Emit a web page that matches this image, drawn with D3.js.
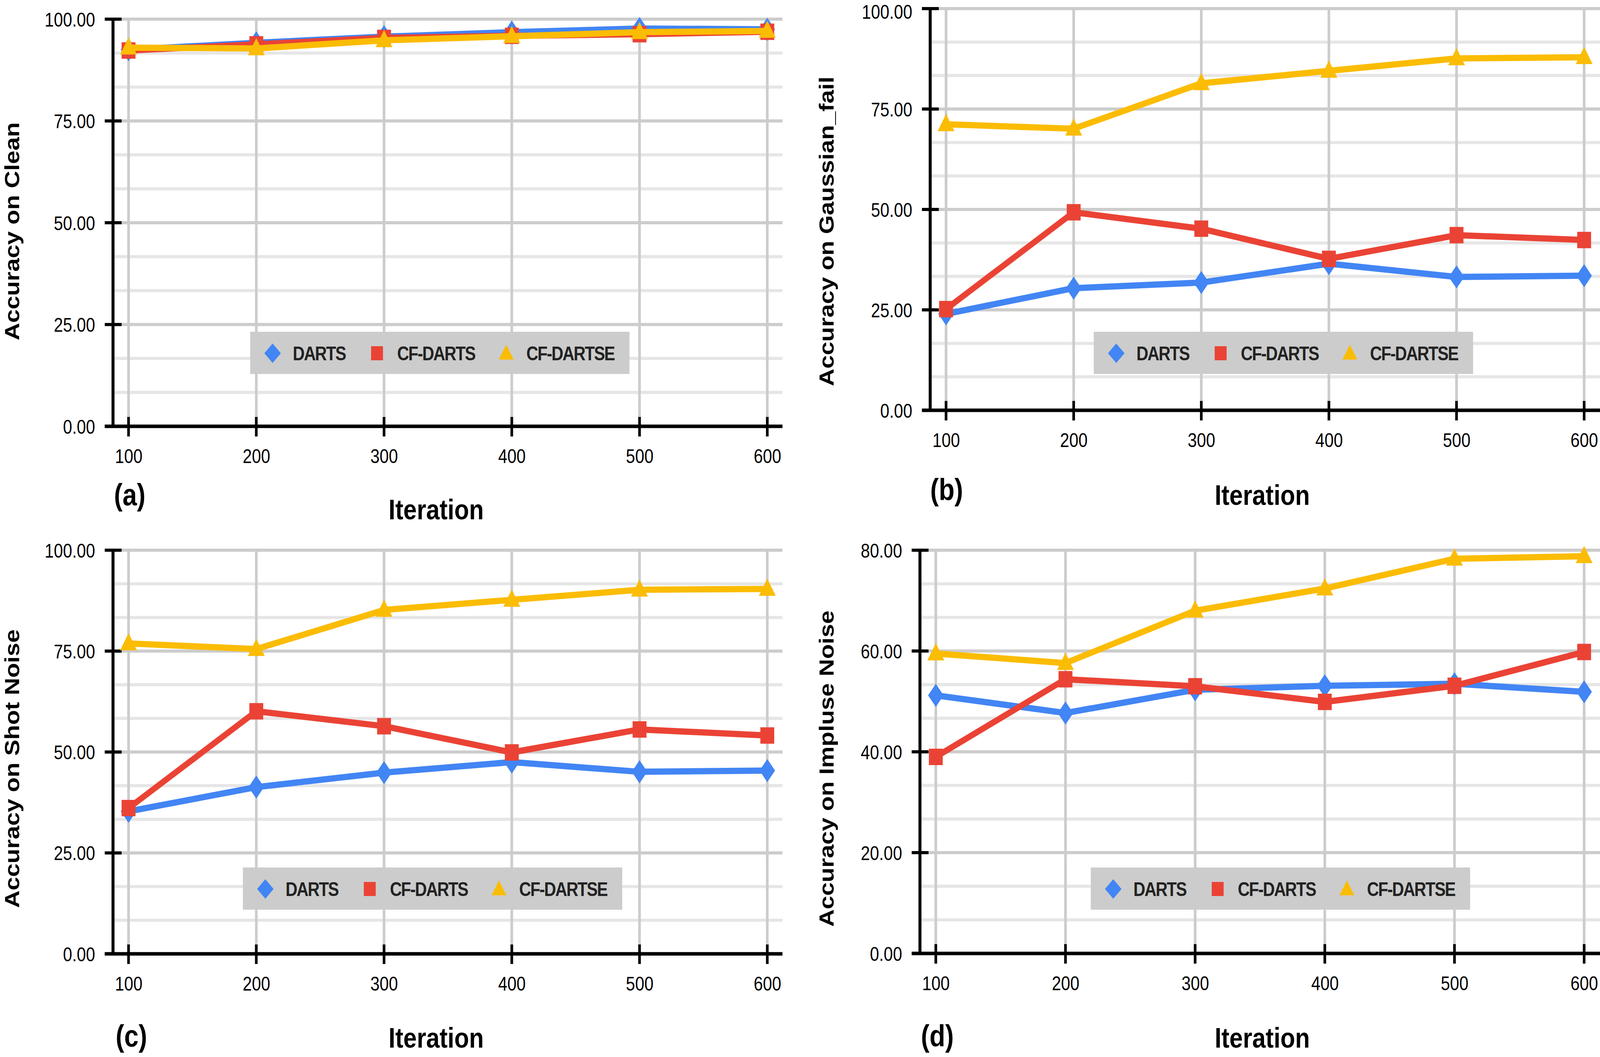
<!DOCTYPE html>
<html><head><meta charset="utf-8">
<script src="https://cdn.jsdelivr.net/npm/d3@7"></script>
<style>html,body{margin:0;padding:0;background:#fff;overflow:hidden;} svg{display:block;width:100vw;height:100vh}</style>
</head><body>
<svg id="chart" viewBox="0 0 4842 2705" preserveAspectRatio="none"></svg>
<script>
// ---------------- DATA ----------------
const iterations = [100, 200, 300, 400, 500, 600];
const seriesNames = ["DARTS", "CF-DARTS", "CF-DARTSE"];
const panelLetters = ["(a)", "(b)", "(c)", "(d)"];
const yTitles = ["Accuracy on Clean", "Accuracy on Gaussian_fail", "Accuracy on Shot Noise", "Accuracy on Impluse Noise"];
const xTitle = "Iteration";
const yTicks100 = [0, 25, 50, 75, 100];
const yTicks80 = [0, 20, 40, 60, 80];

const cleanDARTS    = [92.5, 94.2, 95.7, 96.8, 97.7, 97.5];
const cleanCFDARTS  = [92.3, 93.8, 95.4, 95.9, 96.3, 96.9];
const cleanCFDARTSE = [93.0, 92.8, 94.8, 95.8, 96.8, 97.1];

const gaussDARTS    = [24.0, 30.4, 31.8, 36.5, 33.2, 33.5];
const gaussCFDARTS  = [25.2, 49.3, 45.2, 37.7, 43.6, 42.4];
const gaussCFDARTSE = [71.2, 70.1, 81.4, 84.5, 87.6, 87.9];

const shotDARTS     = [35.3, 41.3, 44.9, 47.5, 45.1, 45.4];
const shotCFDARTS   = [36.1, 60.1, 56.4, 49.9, 55.6, 54.1];
const shotCFDARTSE  = [76.9, 75.5, 85.2, 87.7, 90.2, 90.4];

const impulseDARTS    = [51.2, 47.7, 52.3, 53.1, 53.5, 51.9];
const impulseCFDARTS  = [39.0, 54.4, 53.0, 49.9, 53.1, 59.8];
const impulseCFDARTSE = [59.5, 57.6, 68.0, 72.4, 78.3, 78.8];

// ---------------- STYLE / LAYOUT ----------------
const colors = ["#4285f4", "#ea4335", "#fbbc04"];
const shapes = ["diamond", "square", "triangle"];
const FONT = "'Liberation Sans', Arial, Helvetica, sans-serif";

const panels = [
  { series: [cleanDARTS, cleanCFDARTS, cleanCFDARTSE], ticks: yTicks100,
    axisX: 342, x0: 389, x1: 2322, gridRight: 2368, yTop: 49, yBot: 1091,
    titleX: 58, titleY: 592, letterX: 345, letterY: 1293, iterX: 1320, iterY: 1329,
    legend: { x: 757, y: 849 } },
  { series: [gaussDARTS, gaussCFDARTS, gaussCFDARTSE], ticks: yTicks100,
    axisX: 2815, x0: 2863, x1: 4794, gridRight: 4842, yTop: 22, yBot: 1050,
    titleX: 2523, titleY: 592, letterX: 2815, letterY: 1280, iterX: 3820, iterY: 1292,
    legend: { x: 3310, y: 849 } },
  { series: [shotDARTS, shotCFDARTS, shotCFDARTSE], ticks: yTicks100,
    axisX: 342, x0: 389, x1: 2322, gridRight: 2368, yTop: 1408, yBot: 2441,
    titleX: 58, titleY: 1967, letterX: 350, letterY: 2678, iterX: 1320, iterY: 2681,
    legend: { x: 735, y: 2220 } },
  { series: [impulseDARTS, impulseCFDARTS, impulseCFDARTSE], ticks: yTicks80,
    axisX: 2784, x0: 2832, x1: 4794, gridRight: 4842, yTop: 1408, yBot: 2440,
    titleX: 2523, titleY: 1967, letterX: 2787, letterY: 2678, iterX: 3820, iterY: 2681,
    legend: { x: 3301, y: 2220 } }
];

function markerPath(shape, w, h) {
  const hw = w / 2, hh = h / 2;
  if (shape === "diamond") return `M0,${-hh}L${hw},0L0,${hh}L${-hw},0Z`;
  if (shape === "square") return `M${-hw},${-hh}H${hw}V${hh}H${-hw}Z`;
  return `M0,${-h * 0.6}L${hw},${h * 0.4}L${-hw},${h * 0.4}Z`;
}
const plotMarkerSize = { diamond: [47, 59], square: [42, 42], triangle: [51, 44] };
const legendMarkerSize = { diamond: [50, 50], square: [36, 36], triangle: [45, 38] };

const svg = d3.select("#chart");
svg.append("rect").attr("width", 4842).attr("height", 2705).attr("fill", "#fff");

panels.forEach((p, pi) => {
  const g = svg.append("g");
  const yMax = d3.max(p.ticks);
  const x = d3.scaleLinear().domain([d3.min(iterations), d3.max(iterations)]).range([p.x0, p.x1]);
  const y = d3.scaleLinear().domain([0, yMax]).range([p.yBot, p.yTop]);

  const step = (p.ticks[1] - p.ticks[0]) / 3;
  const minors = d3.range(step, yMax, step).filter(v => Math.abs((v / (step * 3)) - Math.round(v / (step * 3))) > 1e-6);

  g.selectAll(".minor").data(minors).enter().append("line")
    .attr("x1", p.axisX).attr("x2", p.gridRight)
    .attr("y1", d => y(d)).attr("y2", d => y(d))
    .attr("stroke", "#e6e6e6").attr("stroke-width", 8);
  g.selectAll(".major").data(p.ticks.filter(v => v > 0)).enter().append("line")
    .attr("x1", p.axisX).attr("x2", p.gridRight)
    .attr("y1", d => y(d)).attr("y2", d => y(d))
    .attr("stroke", "#cccccc").attr("stroke-width", 8);
  g.selectAll(".vgrid").data(iterations).enter().append("line")
    .attr("x1", d => x(d)).attr("x2", d => x(d))
    .attr("y1", y(yMax) - 4).attr("y2", p.yBot)
    .attr("stroke", "#cccccc").attr("stroke-width", 8);

  g.append("line").attr("x1", p.axisX - 25).attr("x2", p.gridRight)
    .attr("y1", p.yBot).attr("y2", p.yBot).attr("stroke", "#000").attr("stroke-width", 9);
  g.append("line").attr("x1", p.axisX).attr("x2", p.axisX)
    .attr("y1", y(yMax) - 4).attr("y2", p.yBot + 4).attr("stroke", "#000").attr("stroke-width", 9);
  g.selectAll(".ytm").data(p.ticks).enter().append("line")
    .attr("x1", p.axisX - 25).attr("x2", p.axisX + 26)
    .attr("y1", d => y(d)).attr("y2", d => y(d))
    .attr("stroke", "#000").attr("stroke-width", 8);
  g.selectAll(".xtm").data(iterations).enter().append("line")
    .attr("x1", d => x(d)).attr("x2", d => x(d))
    .attr("y1", p.yBot - 24).attr("y2", p.yBot + 26)
    .attr("stroke", "#000").attr("stroke-width", 8);

  const yAxis = d3.axisLeft(y).tickValues(p.ticks).tickFormat(d3.format(".2f")).tickSize(0).tickPadding(54);
  const ya = g.append("g").attr("transform", `translate(${p.axisX},0)`).call(yAxis);
  ya.select(".domain").remove();
  ya.selectAll("text").attr("font-family", FONT).attr("font-size", 50).attr("fill", "#000")
    .attr("dy", d => Math.max(18, 47 - y(d)) + "px");

  const xAxis = d3.axisBottom(x).tickValues(iterations).tickFormat(d3.format("d")).tickSize(0).tickPadding(59);
  const xa = g.append("g").attr("transform", `translate(0,${p.yBot})`).call(xAxis);
  xa.select(".domain").remove();
  xa.selectAll("text").attr("font-family", FONT).attr("font-size", 50).attr("fill", "#000");

  const line = d3.line().x((d, i) => x(iterations[i])).y(d => y(d));
  p.series.forEach((vals, si) => {
    g.append("path").datum(vals).attr("d", line)
      .attr("fill", "none").attr("stroke", colors[si]).attr("stroke-width", 16)
      .attr("stroke-linejoin", "round");
    const [mw, mh] = plotMarkerSize[shapes[si]];
    g.selectAll(".m" + si).data(vals).enter().append("path")
      .attr("transform", (d, i) => `translate(${x(iterations[i])},${y(d)})`)
      .attr("d", markerPath(shapes[si], mw, mh))
      .attr("fill", colors[si]);
  });

  const lg = g.append("g").attr("transform", `translate(${p.legend.x},${p.legend.y})`);
  lg.append("rect").attr("width", 1148).attr("height", 108).attr("fill", "#cccccc");
  const markerOffsets = [68, 384, 775];
  const textOffsets = [129, 445, 836];
  seriesNames.forEach((name, si) => {
    const [lw, lh] = legendMarkerSize[shapes[si]];
    lg.append("path").attr("transform", `translate(${markerOffsets[si]},${shapes[si] === "triangle" ? 56 : 55})`)
      .attr("d", markerPath(shapes[si], lw, lh)).attr("fill", colors[si]);
    lg.append("text").attr("x", textOffsets[si]).attr("y", 73)
      .attr("font-family", FONT).attr("font-weight", "bold").attr("font-size", 50)
      .attr("letter-spacing", "-2.5px").attr("fill", "#222").text(name);
  });

  g.append("text").attr("transform", `translate(${p.titleX},${p.titleY}) rotate(-90)`)
    .attr("text-anchor", "middle").attr("font-family", FONT).attr("font-weight", "bold")
    .attr("font-size", 62).attr("fill", "#000").text(yTitles[pi]);
  g.append("text").attr("x", p.iterX).attr("y", p.iterY).attr("text-anchor", "middle")
    .attr("font-family", FONT).attr("font-weight", "bold").attr("font-size", 73)
    .attr("fill", "#000").text(xTitle);
  g.append("text").attr("x", p.letterX).attr("y", p.letterY)
    .attr("font-family", FONT).attr("font-weight", "bold").attr("font-size", 78)
    .attr("fill", "#000").text(panelLetters[pi]);
});
</script>
</body></html>
